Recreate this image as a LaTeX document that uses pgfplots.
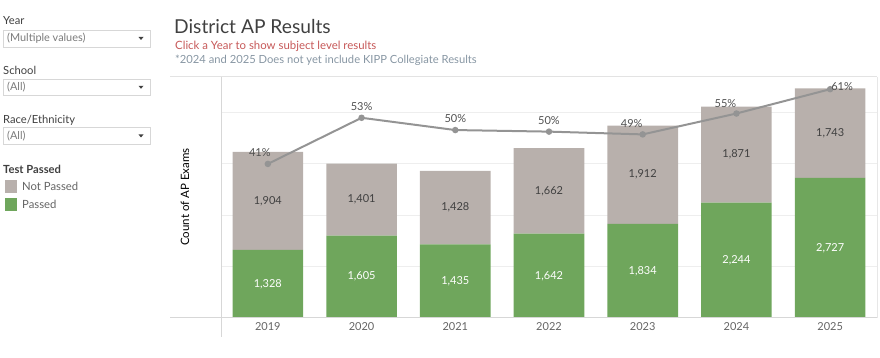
\documentclass[border=0pt]{standalone}
\usepackage{pgfplots}
\pgfplotsset{compat=1.18}
\usepackage{pgfplotstable}
\usepackage{fontspec}
\setmainfont{Lato}
\definecolor{passgreen}{RGB}{111,166,92}
\definecolor{notgray}{RGB}{184,176,172}
\definecolor{linegray}{RGB}{148,148,148}
\definecolor{titlegray}{RGB}{64,64,64}
\definecolor{subred}{RGB}{198,88,88}
\definecolor{notegray}{RGB}{135,150,163}
\definecolor{gridc}{RGB}{238,238,238}
\definecolor{framec}{RGB}{215,215,215}
\definecolor{labc}{RGB}{80,80,80}
\definecolor{tickc}{RGB}{100,100,100}

\pgfplotstableread{
x passed notpassed pct lx ly
0 1328 1904 41.09 -8 11
1 1605 1401 53.39 0 11
2 1435 1428 50.12 0 11
3 1642 1662 49.70 0 11
4 1834 1912 48.96 -11 11
5 2244 1871 54.53 -11 10
6 2727 1743 61.01 12 3
}\datatable

\begin{document}
\begin{tikzpicture}[x=1pt,y=1pt]
\path (0,0) rectangle (880,358);
% ---------- left filter panel ----------
\tikzset{lab/.style={anchor=west, inner sep=0pt, text=titlegray, font=\fontsize{11.2}{13}\selectfont},
         box/.style={draw=framec, fill=white, line width=0.8pt},
         val/.style={anchor=west, inner sep=0pt, text=tickc!85, font=\fontsize{10.9}{12}\selectfont}}
\node[lab] at (3,337) {Year};
\draw[box] (3,328) rectangle (150,311);
\node[val] at (7,319.5) {(Multiple values)};
\fill[titlegray] (138.5,321) -- (143.5,321) -- (141,318) -- cycle;
\node[lab] at (3,288) {School};
\draw[box] (3,279) rectangle (150,262.3);
\node[val] at (7,270.7) {(All)};
\fill[titlegray] (138.5,272.2) -- (143.5,272.2) -- (141,269.2) -- cycle;
\node[lab] at (3,238) {Race/Ethnicity};
\draw[box] (3,230.3) rectangle (150,213.7);
\node[val] at (7,222) {(All)};
\fill[titlegray] (138.5,223.5) -- (143.5,223.5) -- (141,220.5) -- cycle;
\node[lab, font=\fontsize{11.2}{13}\selectfont\bfseries] at (3,189) {Test Passed};
\fill[notgray] (5,178) rectangle (17,165);
\node[val, text=tickc, font=\fontsize{11.3}{13}\selectfont] at (22,171.5) {Not Passed};
\fill[passgreen] (5,160) rectangle (17,147);
\node[val, text=tickc, font=\fontsize{11.3}{13}\selectfont] at (22,153.5) {Passed};
% ---------- titles ----------
\node[anchor=base west, inner sep=0pt, text=titlegray, font=\fontsize{19.2}{22}\selectfont] at (174,324.7) {District AP Results};
\node[anchor=base west, inner sep=0pt, text=subred, font=\fontsize{11.4}{13}\selectfont] at (175,308.7) {Click a Year to show subject level results};
\node[anchor=base west, inner sep=0pt, text=notegray, font=\fontsize{11.2}{13}\selectfont] at (175,294) {*2024 and 2025 Does not yet include KIPP Collegiate Results};
% ---------- frame ----------
\draw[framec!70, line width=1.5pt] (170,281.5) -- (877,281.5);
\draw[framec!60, line width=0.8pt] (877,281) -- (877,40);
\node[rotate=90, text=black, font=\fontsize{11.5}{13}\selectfont] at (185,161) {Count of AP Exams};
% ---------- bars ----------
\begin{axis}[at={(221pt,40pt)}, anchor=south west, width=656pt, height=241pt, scale only axis,
  ybar stacked, bar width=70.6pt,
  xmin=-0.5, xmax=6.5, ymin=0, ymax=4690,
  axis line style={draw=none},
  ytick={1000,2000,3000,4000}, yticklabels={},
  ymajorgrids, grid style={gridc, line width=0.7pt},
  major tick length=0pt,
  xtick=data, xticklabels={2019,2020,2021,2022,2023,2024,2025},
  xticklabel style={text=tickc, font=\fontsize{11}{13}\selectfont, yshift=-1pt},
  /pgf/number format/1000 sep={,},
  /pgf/number format/assume math mode=true,
  clip=false]
\addplot[fill=passgreen, draw=none, nodes near coords, point meta=explicit,
  every node near coord/.append style={text=white, font=\fontsize{11}{13}\selectfont, anchor=center}]
  table[x=x, y=passed, meta=passed] {\datatable};
\addplot[fill=notgray, draw=none, nodes near coords, point meta=explicit,
  every node near coord/.append style={text=labc!80!black, font=\fontsize{11}{13}\selectfont, anchor=center}]
  table[x=x, y=notpassed, meta=notpassed] {\datatable};
\end{axis}
% ---------- pass rate line ----------
\begin{axis}[at={(221pt,40pt)}, anchor=south west, width=656pt, height=241pt, scale only axis,
  xmin=-0.5, xmax=6.5, ymin=0, ymax=64.27, hide axis, clip=false,
  /pgf/number format/assume math mode=true]
\addplot[linegray, line width=2pt, mark=*, mark size=2.2pt, mark options={fill=linegray, draw=linegray},
  nodes near coords={\pgfmathprintnumber[fixed,precision=0]{\pgfplotspointmeta}\%},
  point meta=explicit,
  visualization depends on={\thisrow{lx} \as \labx},
  visualization depends on={\thisrow{ly} \as \laby},
  every node near coord/.append style={text=labc, font=\fontsize{11}{13}\selectfont, anchor=center, xshift={1pt*\labx}, yshift={1pt*\laby}}]
  table[x=x, y=pct, meta=pct] {\datatable};
\end{axis}
\draw[framec, line width=1pt] (170,40) -- (877,40);
\draw[framec, line width=0.8pt] (221,281) -- (221,21);
\end{tikzpicture}
\end{document}
